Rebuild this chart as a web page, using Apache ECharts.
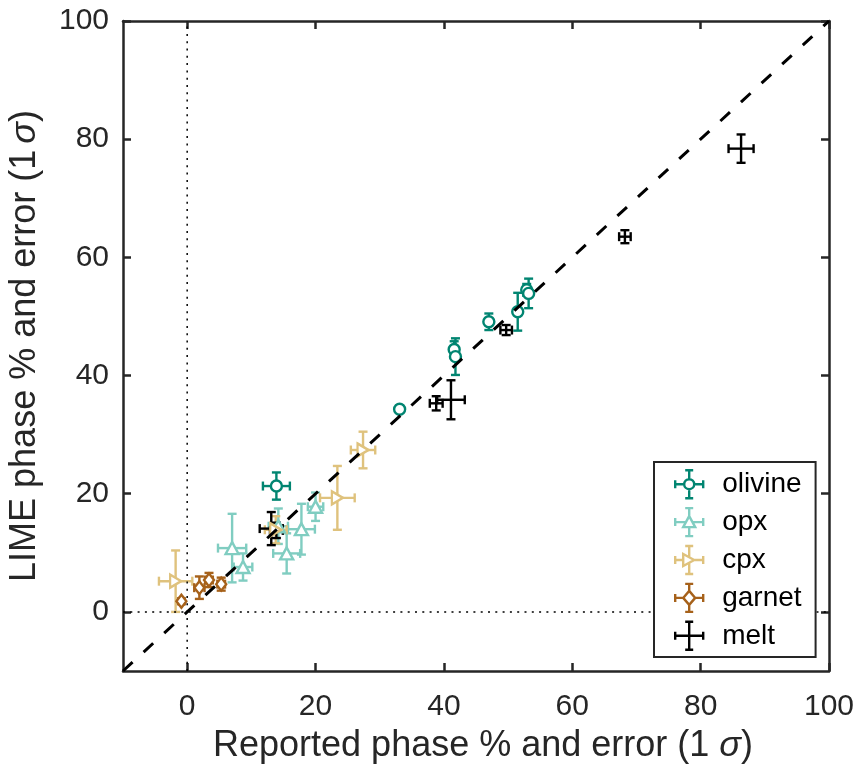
<!DOCTYPE html>
<html>
<head>
<meta charset="utf-8">
<script src="https://cdn.jsdelivr.net/npm/echarts@6/dist/echarts.min.js"></script>
<style>
  html, body { margin: 0; padding: 0; background: #fff; }
  #chart { width: 862px; height: 764px; }
</style>
</head>
<body>
<div id="chart"></div>
<script>
// reported phase % (x), LIME phase % (y), 1 sigma errors
const olivineX    = [13.9, 33.1, 41.6, 41.8, 47.0, 51.5, 52.9, 53.2];
const olivineY    = [21.3, 34.3, 44.4, 43.2, 49.1, 50.8, 54.5, 53.9];
const olivineXErr = [2.1, 0.4, 0.4, 0.4, 0.4, 0.4, 0.4, 0.4];
const olivineYErr = [2.3, 0.6, 1.4, 3.1, 1.4, 3.2, 1.0, 2.5];

const opxX    = [7.0, 8.7, 14.2, 15.5, 17.8, 20.0];
const opxY    = [10.8, 7.6, 14.5, 9.9, 14.0, 17.8];
const opxXErr = [2.2, 1.45, 1.5, 2.1, 2.1, 1.2];
const opxYErr = [5.8, 2.3, 3.0, 3.4, 4.3, 2.4];

const cpxX    = [-1.8, 13.8, 23.4, 27.4];
const cpxY    = [5.2, 13.9, 19.3, 27.4];
const cpxXErr = [2.6, 1.7, 2.7, 1.9];
const cpxYErr = [5.2, 2.3, 5.4, 3.1];

const garnetX    = [-0.9, 1.9, 3.4, 5.3];
const garnetY    = [1.8, 4.1, 5.4, 4.7];
const garnetXErr = [0.3, 0.8, 0.6, 0.6];
const garnetYErr = [0.5, 1.9, 1.2, 1.1];

const meltX    = [13.1, 13.9, 38.8, 41.1, 49.7, 68.2, 86.3];
const meltY    = [14.1, 13.8, 35.3, 35.9, 47.7, 63.5, 78.4];
const meltXErr = [1.8, 1.0, 1.0, 2.15, 0.9, 0.9, 1.95];
const meltYErr = [2.8, 1.3, 1.2, 3.3, 0.85, 1.1, 2.4];

const tickValues = [0, 20, 40, 60, 80, 100];

const FONT = '"Liberation Sans", Arial, Helvetica, sans-serif';
const AXIS_COLOR = '#262626';

// error bar: cross with caps, drawn in pixel space from data coords
function errorBar(params, api) {
    const x = api.value(0), y = api.value(1), ex = api.value(2), ey = api.value(3);
    const l = api.coord([x - ex, y]), r = api.coord([x + ex, y]);
    const t = api.coord([x, y + ey]), b = api.coord([x, y - ey]);
    const cap = 4.5;
    const style = { stroke: api.visual('color'), lineWidth: 2.4, fill: null };
    const seg = (x1, y1, x2, y2) => ({ type: 'line', shape: { x1, y1, x2, y2 }, style });
    return {
        type: 'group',
        children: [
            seg(l[0], l[1], r[0], r[1]),
            seg(t[0], t[1], b[0], b[1]),
            seg(l[0], l[1] - cap, l[0], l[1] + cap),
            seg(r[0], r[1] - cap, r[0], r[1] + cap),
            seg(t[0] - cap, t[1], t[0] + cap, t[1]),
            seg(b[0] - cap, b[1], b[0] + cap, b[1])
        ]
    };
}

function mineral(name, color, xs, ys, xe, ye, symbol, size) {
    const pts = xs.map((x, i) => [x, ys[i], xe[i], ye[i]]);
    const out = [{
        name: name, type: 'custom', renderItem: errorBar, data: pts,
        encode: { x: 0, y: 1 }, itemStyle: { color: color }, clip: false, silent: true
    }];
    if (symbol) {
        out.push({
            name: name, type: 'scatter', data: pts.map(p => [p[0], p[1]]),
            symbol: symbol, symbolSize: size, silent: true,
            itemStyle: { color: '#fff', borderColor: color, borderWidth: 2.4, opacity: 1 }
        });
    }
    return out;
}

// legend icons (28x28 box)
const caps = 'M0,10L0,18M28,10L28,18M10,0L18,0M10,28L18,28';
const icons = {
    olivine: 'path://M0,14L9,14M19,14L28,14M14,0L14,9M14,19L14,28' + caps + 'M9,14A5,5,0,1,1,19,14A5,5,0,1,1,9,14Z',
    opx: 'path://M0,14L10.7,14M17.3,14L28,14M14,0L14,8M14,19L14,28' + caps + 'M14,8L20,19L8,19Z',
    cpx: 'path://M0,14L8,14M19,14L28,14M14,0L14,11.3M14,16.7L14,28' + caps + 'M19,14L8,8L8,20Z',
    garnet: 'path://M0,14L8,14M20,14L28,14M14,0L14,7M14,21L14,28' + caps + 'M14,7L20,14L14,21L8,14Z',
    melt: 'path://M0,14L28,14M14,0L14,28' + caps
};
const colors = { olivine: '#018571', opx: '#80cdc1', cpx: '#dfc27d', garnet: '#a6611a', melt: '#000000' };
const names = ['olivine', 'opx', 'cpx', 'garnet', 'melt'];

const chart = echarts.init(document.getElementById('chart'));

const axisCommon = {
    type: 'value', min: -10, max: 100,
    axisLine: { show: true, onZero: false, lineStyle: { color: AXIS_COLOR, width: 2.5 } },
    axisTick: { show: true, inside: true, length: 8, customValues: tickValues, lineStyle: { color: AXIS_COLOR, width: 2.5 } },
    splitLine: { show: false }
};

chart.setOption({
    animation: false,
    backgroundColor: '#fff',
    grid: { left: 123, right: 33, top: 21, bottom: 93, containLabel: false, outerBoundsMode: 'none' },
    xAxis: [
        Object.assign({}, axisCommon, {
            position: 'bottom',
            name: 'Reported phase % and error (1 {s|σ})',
            nameLocation: 'middle', nameGap: 57,
            nameTextStyle: {
                fontFamily: FONT, fontSize: 36, color: AXIS_COLOR, padding: [0, 0, 0, 14],
                rich: { s: { fontFamily: FONT, fontSize: 36, fontStyle: 'italic', color: AXIS_COLOR } }
            },
            axisLabel: { customValues: tickValues, margin: 21, fontFamily: FONT, fontSize: 30, color: AXIS_COLOR }
        }),
        Object.assign({}, axisCommon, { position: 'top', axisLabel: { show: false } })
    ],
    yAxis: [
        Object.assign({}, axisCommon, {
            position: 'left',
            name: 'LIME phase % and error (1{s|σ})',
            nameLocation: 'middle', nameGap: 80,
            nameTextStyle: {
                fontFamily: FONT, fontSize: 36, color: AXIS_COLOR,
                rich: { s: { fontFamily: FONT, fontSize: 36, fontStyle: 'italic', color: AXIS_COLOR, padding: [0, 0, 0, 6] } }
            },
            axisLabel: { customValues: tickValues, margin: 14, fontFamily: FONT, fontSize: 30, color: AXIS_COLOR }
        }),
        Object.assign({}, axisCommon, { position: 'right', axisLabel: { show: false } })
    ],
    legend: {
        orient: 'vertical',
        left: 654, top: 462,
        padding: [7, 14, 6, 20],
        itemWidth: 28, itemHeight: 28, itemGap: 7.5,
        backgroundColor: '#fff',
        borderColor: AXIS_COLOR, borderWidth: 2,
        textStyle: { fontFamily: FONT, fontSize: 28, color: '#000', padding: [0, 0, 0, 14] },
        selectedMode: false,
        data: names.map(n => ({
            name: n, icon: icons[n],
            itemStyle: { color: 'transparent', borderColor: colors[n], borderWidth: 2.4 }
        }))
    },
    series: [
        {
            type: 'line', data: [[0, -10], [0, 100]], symbol: 'none', silent: true,
            lineStyle: { color: '#000', width: 1.5, type: [2, 5.3] }
        },
        {
            type: 'line', data: [[-10, 0], [100, 0]], symbol: 'none', silent: true,
            lineStyle: { color: '#000', width: 1.5, type: [2, 5.3] }
        },
        {
            type: 'line', data: [[-10, -10], [100, 100]], symbol: 'none', silent: true,
            lineStyle: { color: '#000', width: 3, type: [13, 15] }
        }
    ].concat(
        mineral('olivine', colors.olivine, olivineX, olivineY, olivineXErr, olivineYErr, 'circle', 11),
        mineral('opx', colors.opx, opxX, opxY, opxXErr, opxYErr, 'triangle', [13, 12]),
        mineral('cpx', colors.cpx, cpxX, cpxY, cpxXErr, cpxYErr, 'path://M0,0L10,6L0,12Z', [11, 13]),
        mineral('garnet', colors.garnet, garnetX, garnetY, garnetXErr, garnetYErr, 'diamond', [10, 13]),
        mineral('melt', colors.melt, meltX, meltY, meltXErr, meltYErr, null, 0)
    )
});
</script>
</body>
</html>
